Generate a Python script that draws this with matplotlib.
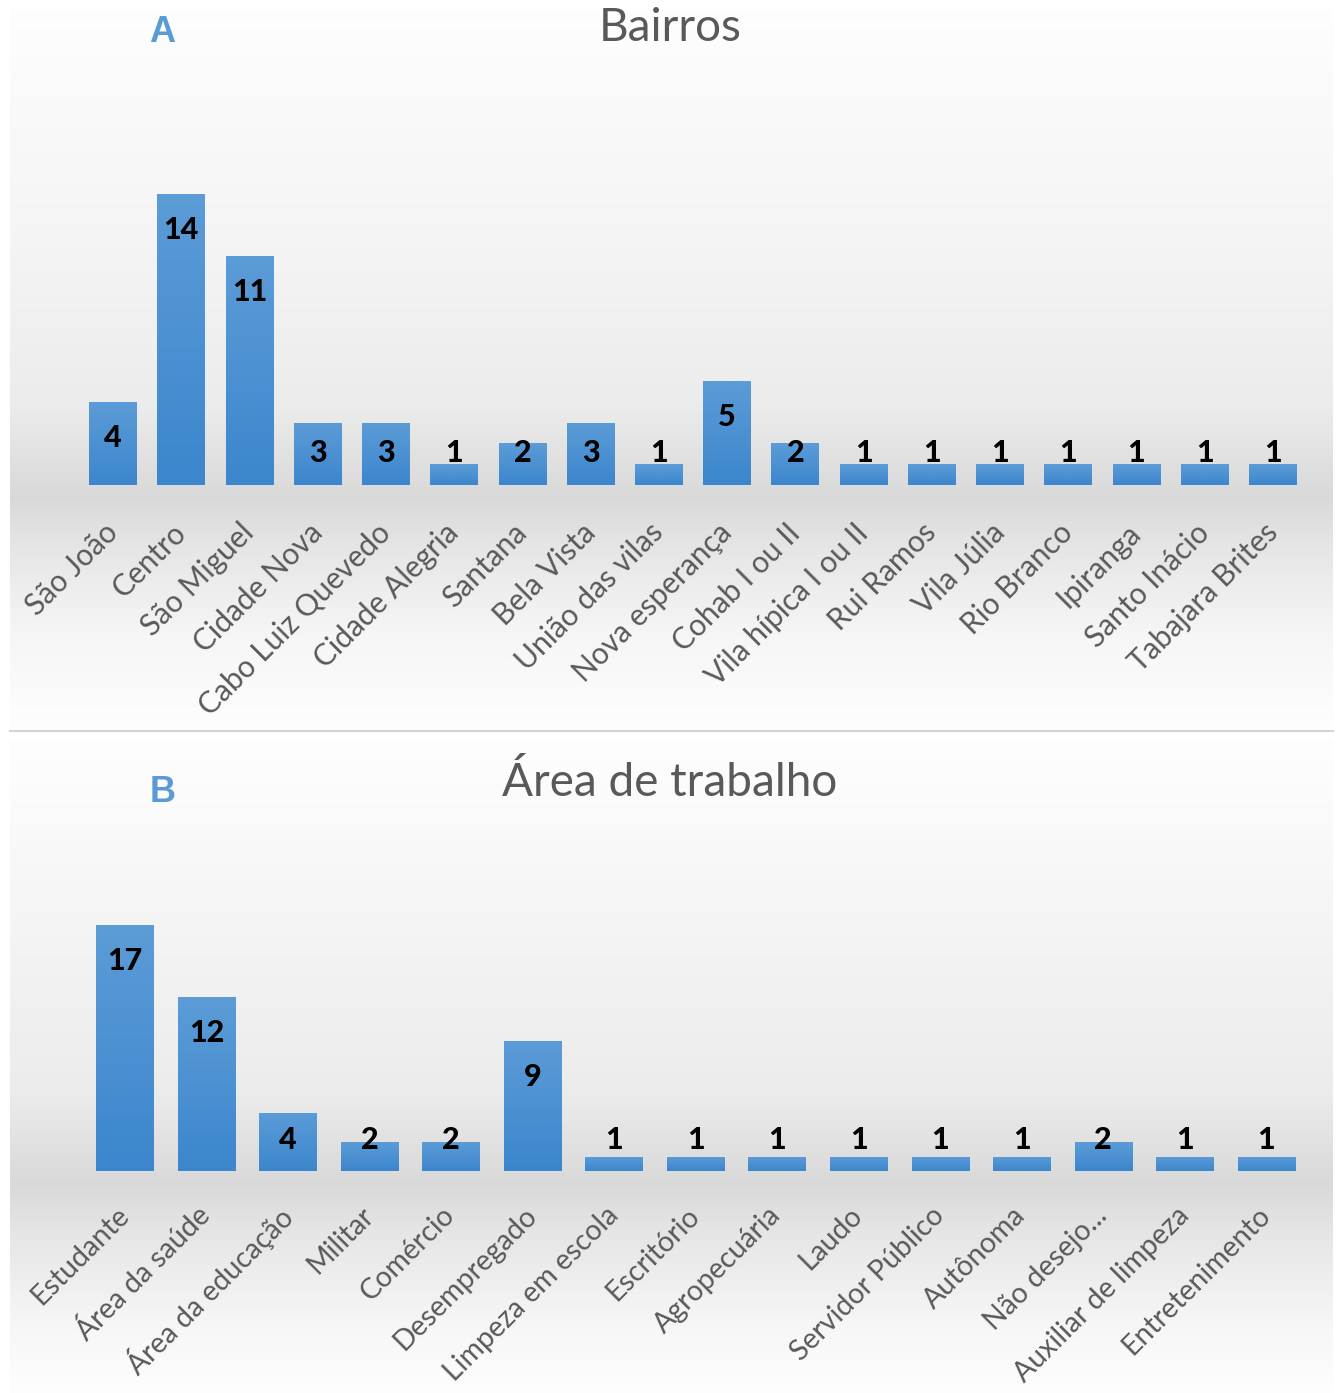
import matplotlib
matplotlib.use('Agg')
import matplotlib.pyplot as plt
from matplotlib.colors import LinearSegmentedColormap
import numpy as np

# Panel A - Bairros
bairros = ['São João', 'Centro', 'São Miguel', 'Cidade Nova', 'Cabo Luiz Quevedo',
           'Cidade Alegria', 'Santana', 'Bela Vista', 'União das vilas',
           'Nova esperança', 'Cohab I ou II', 'Vila hípica I ou II', 'Rui Ramos',
           'Vila Júlia', 'Rio Branco', 'Ipiranga', 'Santo Inácio', 'Tabajara Brites']
bairros_n = [4, 14, 11, 3, 3, 1, 2, 3, 1, 5, 2, 1, 1, 1, 1, 1, 1, 1]

# Panel B - Área de trabalho
areas = ['Estudante', 'Área da saúde', 'Área da educação', 'Militar', 'Comércio',
         'Desempregado', 'Limpeza em escola', 'Escritório', 'Agropecuária', 'Laudo',
         'Servidor Público', 'Autônoma', 'Não desejo...', 'Auxiliar de limpeza',
         'Entretenimento']
areas_n = [17, 12, 4, 2, 2, 9, 1, 1, 1, 1, 1, 1, 2, 1, 1]

W, H = 1338, 1393
DPI = 100
FONT = 'Lato'
GRAY_TXT = '#595959'
BLUE = '#5B9BD5'

fig = plt.figure(figsize=(W / DPI, H / DPI), dpi=DPI)

# background with soft gray band around the baselines
bg = fig.add_axes([0, 0, 1, 1], zorder=-10)
bg.set_xlim(0, W)
bg.set_ylim(H, 0)
bg.axis('off')
rows = np.arange(H)
shade = np.ones(H)


def band(lo, hi, base):
    sel = (rows >= lo) & (rows <= hi)
    pts_y = [lo, lo + 60, base - 250, base - 80, base + 12, base + 60,
             base + 150, hi]
    pts_v = [0.995, 0.985, 0.96, 0.925, 0.85, 0.90, 0.965, 0.995]
    shade[sel] = np.interp(rows[sel], pts_y, pts_v)


band(10, 728, 485)
band(740, H - 1, 1171)
img = np.repeat(shade[:, None], 3, axis=1)[:, None, :]
bg.imshow(img, extent=[10, 1333, H, 0], aspect='auto', interpolation='bilinear')
bg.plot([10, 1333], [731, 731], color='#d4d4d4', lw=1.5)

bar_cmap = LinearSegmentedColormap.from_list('bar', ['#3C86CD', '#5C9CD7'])
grad = np.linspace(0, 1, 100)[:, None]


def panel(rect, cats, vals, ymax, title, title_y, letter, letter_xy,
          lab_off, lab_min, pad, tick_fs):
    ax = fig.add_axes(rect)
    ax.set_facecolor('none')
    x = np.arange(len(cats))
    bars = ax.bar(x, vals, width=0.7, color='none', zorder=2)
    for b in bars:
        im = ax.imshow(grad, extent=[b.get_x(), b.get_x() + b.get_width(),
                                     0, b.get_height()],
                       origin='lower', cmap=bar_cmap, aspect='auto', zorder=2)
        im.set_clip_path(b)
    ax.set_xlim(-0.5, len(cats) - 0.5)
    ax.set_ylim(0, ymax)
    ax.set_aspect('auto')
    for s in ax.spines.values():
        s.set_visible(False)
    ax.set_yticks([])
    ax.set_xticks(x)
    ax.set_xticklabels(cats, rotation=45, ha='right', va='center',
                       rotation_mode='anchor', fontsize=tick_fs, color=GRAY_TXT,
                       family=FONT)
    ax.tick_params(axis='x', length=0, pad=pad)

    # labels just inside the bar end, kept above the baseline for short bars
    fig.canvas.draw()
    ppu = ax.transData.transform((0, 1))[1] - ax.transData.transform((0, 0))[1]
    for xi, v in zip(x, vals):
        y = max(v - lab_off / ppu, lab_min / ppu)
        ax.text(xi, y, str(v), ha='center', va='center', fontsize=22,
                fontweight='black', color='black', family=FONT, zorder=3)

    fig.text(670 / W, 1 - title_y / H, title, ha='center', va='center',
             fontsize=33, color=GRAY_TXT, family=FONT)
    fig.text(letter_xy[0] / W, 1 - letter_xy[1] / H, letter, ha='center',
             va='center', fontsize=26, fontweight='bold', color=BLUE,
             family='Liberation Sans')
    return ax


panel([79 / W, (H - 485) / H, 1228 / W, 15 * 20.8 / H], bairros, bairros_n, 15,
      'Bairros', 28, 'A', (162, 33), 36, 32, 31, 21.5)
panel([84 / W, (H - 1171) / H, 1223 / W, 18 * 14.5 / H], areas, areas_n, 18,
      'Área de trabalho', 783, 'B', (163, 792), 36, 31, 29, 20.5)

fig.savefig('out.png', dpi=DPI)
